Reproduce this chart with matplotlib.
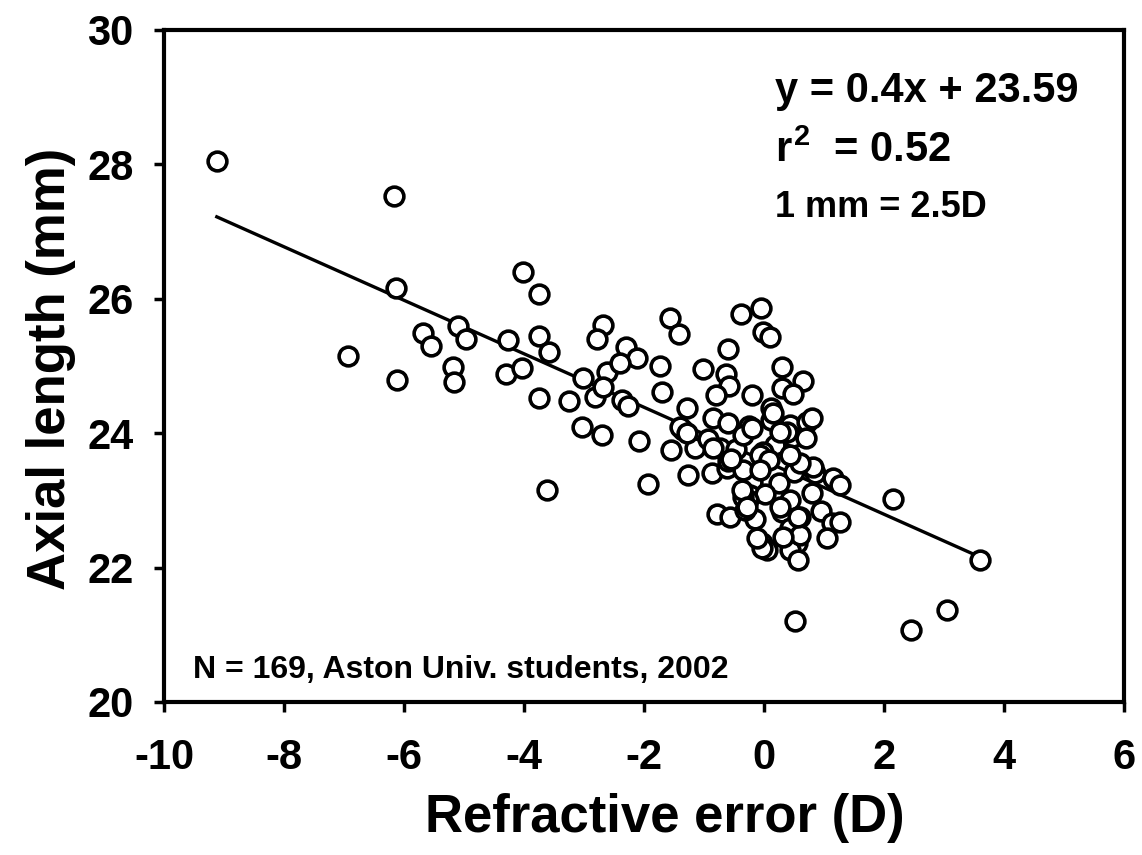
import matplotlib
matplotlib.use("Agg")
import matplotlib.pyplot as plt
import numpy as np

# Refractive error (D) and axial length (mm)
refractive_error = [
    -9.12, -6.17, -6.13, -6.93, -6.12, -5.68, -5.55, -5.10, -4.97, -5.18,
    -5.17, -4.27, -4.02, -3.75, -3.75, -3.58, -4.30, -4.03, -3.75, -3.25,
    -3.02, -3.03, -2.70, -2.82, -2.68, -2.78, -3.62, -2.62, -2.68, -2.30,
    -2.12, -2.40, -2.37, -2.27, -2.08, -1.73, -1.70, -1.57, -1.42, -1.93,
    -1.28, -1.35, -1.40, -1.55, -1.15, -1.27, -0.85, -0.60, -0.93, -0.73,
    -0.87, -0.62, -1.02, -0.63, -0.58, -0.80, -0.60, -0.38, -0.05, -0.02,
    0.10, 0.30, 0.65, 0.30, 0.49, -0.20, 0.12, -0.25, 0.12, 0.43,
    0.72, 0.80, -1.28, -0.85, -0.47, -0.35, 0.18, 0.48, 0.70, 0.38,
    -0.60, -0.02, -0.07, 0.08, 0.50, 0.85, 0.82, 1.15, 1.27, -0.20,
    0.25, 0.80, -0.23, 0.02, -0.27, -0.78, -0.57, -0.15, 0.30, 0.60,
    0.95, 1.13, 1.27, 1.05, -0.03, 0.05, -0.03, 0.55, 0.43, 0.57,
    0.52, 2.15, 3.05, 2.45, 3.60, -0.20, 0.27, 0.60, 0.43, -0.35,
    -0.07, -0.35, 0.43, -0.32, -0.37, -0.28, 0.27, 0.43, 0.60, 0.32,
    -0.12, 0.57, -0.55, 0.15,
]
axial_length = [
    28.05, 27.53, 26.16, 25.15, 24.79, 25.49, 25.30, 25.60, 25.40, 24.99,
    24.76, 25.39, 26.40, 26.07, 25.45, 25.21, 24.88, 24.97, 24.52, 24.48,
    24.82, 24.09, 23.97, 24.54, 25.61, 25.40, 23.15, 24.91, 24.69, 25.28,
    25.12, 25.04, 24.49, 24.40, 23.88, 25.00, 24.62, 25.71, 25.48, 23.24,
    24.37, 24.05, 24.09, 23.75, 23.78, 23.38, 24.22, 24.15, 23.92, 23.78,
    23.41, 23.48, 24.95, 24.88, 24.70, 24.57, 25.25, 25.77, 25.86, 25.51,
    25.43, 24.98, 24.78, 24.67, 24.58, 24.57, 24.38, 24.10, 24.20, 24.12,
    24.16, 24.22, 24.01, 23.78, 23.77, 23.98, 23.82, 23.94, 23.93, 24.02,
    23.58, 23.72, 23.68, 23.60, 23.43, 23.41, 23.50, 23.33, 23.23, 23.27,
    23.26, 23.11, 23.08, 23.10, 23.00, 22.80, 22.76, 22.73, 22.83, 22.76,
    22.84, 22.66, 22.68, 22.44, 22.37, 22.26, 22.29, 22.37, 22.26, 22.11,
    21.20, 23.02, 21.37, 21.07, 22.12, 24.08, 24.02, 23.56, 23.68, 23.45,
    23.45, 23.05, 23.00, 22.86, 23.15, 22.90, 22.90, 22.59, 22.49, 22.45,
    22.44, 22.75, 23.62, 24.30,
]

slope = -0.398
intercept = 23.59

eq_text = "y = 0.4x + 23.59"
r2_text = "$r^2$  = 0.52"
conv_text = "1 mm = 2.5D"
n_text = "N = 169, Aston Univ. students, 2002"

x_ticks = [-10, -8, -6, -4, -2, 0, 2, 4, 6]
y_ticks = [20, 22, 24, 26, 28, 30]

plt.rcParams['font.family'] = ['Liberation Sans', 'DejaVu Sans']
plt.rcParams['font.weight'] = 'bold'
plt.rcParams['mathtext.fontset'] = 'custom'
plt.rcParams['mathtext.rm'] = 'Liberation Sans:bold'
plt.rcParams['mathtext.it'] = 'Liberation Sans:bold'
plt.rcParams['mathtext.bf'] = 'Liberation Sans:bold'

fig = plt.figure(figsize=(11.42, 8.55), dpi=100)
ax = fig.add_axes([164/1142, 1-702/855, 960/1142, 672/855])

xs = np.array(refractive_error)
line_x = np.array([xs.min(), xs.max()])
ax.plot(line_x, slope*line_x + intercept, color='black', lw=2.4, zorder=2)

ax.plot(refractive_error, axial_length, linestyle='none', marker='o',
        markersize=13.5, markerfacecolor='white', markeredgecolor='black',
        markeredgewidth=2.6, zorder=3)

ax.set_xlim(-10, 6)
ax.set_ylim(20, 30)
ax.set_xticks(x_ticks)
ax.set_yticks(y_ticks)
ax.set_xticklabels([str(t) for t in x_ticks])
ax.set_yticklabels([str(t) for t in y_ticks])

for s in ax.spines.values():
    s.set_linewidth(3)
ax.tick_params(direction='out', length=7, width=2.5, labelsize=30)
ax.tick_params(axis='x', pad=19)
ax.tick_params(axis='y', pad=15)
for lab in ax.get_xticklabels() + ax.get_yticklabels():
    lab.set_fontweight('bold')

ax.set_xlabel("Refractive error (D)", fontsize=38, fontweight='bold')
ax.set_ylabel("Axial length (mm)", fontsize=38, fontweight='bold')
ax.xaxis.set_label_coords(0.522, -0.135)
ax.yaxis.set_label_coords(-0.092, 0.495)

ax.text(0.636, 0.893, eq_text, transform=ax.transAxes, fontsize=30,
        fontweight='bold', va='baseline', ha='left')
ax.text(0.636, 0.804, r2_text, transform=ax.transAxes, fontsize=30,
        fontweight='bold', va='baseline', ha='left')
ax.text(0.636, 0.722, conv_text, transform=ax.transAxes, fontsize=26,
        fontweight='bold', va='baseline', ha='left')
ax.text(0.030, 0.036, n_text, transform=ax.transAxes, fontsize=23,
        fontweight='bold', va='baseline', ha='left')

fig.savefig("out.png", dpi=100, facecolor='white')
